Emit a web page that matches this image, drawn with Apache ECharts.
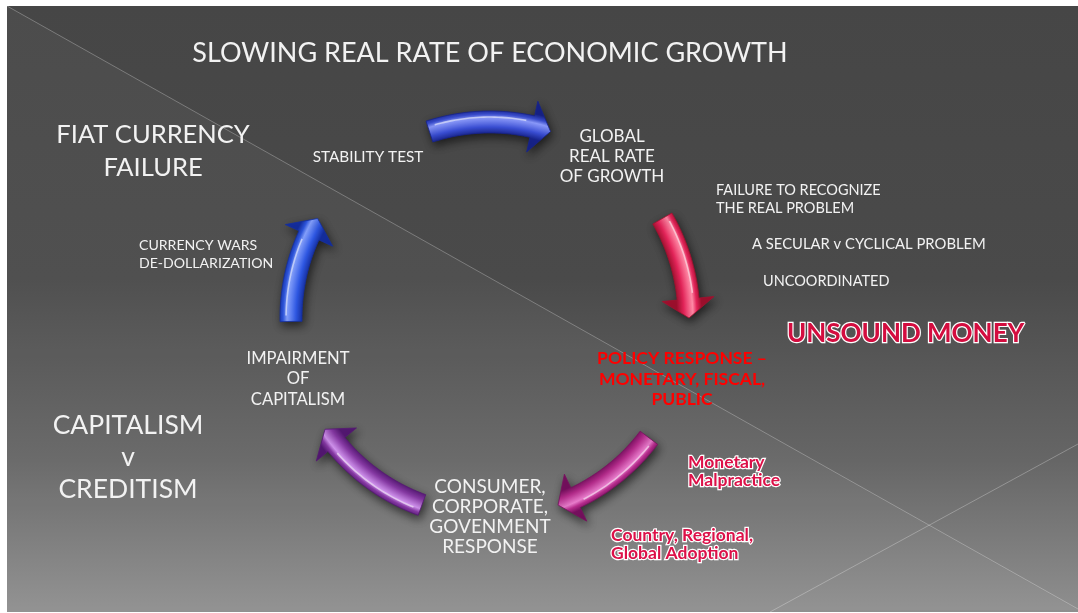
<!DOCTYPE html>
<html>
<head>
<meta charset="utf-8">
<script src="https://cdn.jsdelivr.net/npm/echarts@6/dist/echarts.min.js"></script>
<style>
html, body { margin: 0; padding: 0; background: #fff; }
#chart { width: 1078px; height: 613px; }
</style>
</head>
<body>
<div id="chart"></div>
<script>
// the cycle: five curved arrows, angles in degrees (0 = east, counter-clockwise)
const arrowStart = [108, 30, 323, 250, 181];
const arrowEnd = [72, 0, 290, 214, 150];
const arrowRadius = [0.985, 1, 1, 1, 1];

const headline = "SLOWING REAL RATE OF ECONOMIC GROWTH";
const stageLabels = [
    "STABILITY TEST",
    "GLOBAL\nREAL RATE\nOF GROWTH",
    "CONSUMER,\nCORPORATE,\nGOVENMENT\nRESPONSE",
    "IMPAIRMENT\nOF\nCAPITALISM",
];
const policyLabel = "POLICY RESPONSE –\nMONETARY, FISCAL,\nPUBLIC";
const problemNotes = ["FAILURE TO RECOGNIZE\nTHE REAL PROBLEM", "A SECULAR v CYCLICAL PROBLEM", "UNCOORDINATED"];
const currencyNote = "CURRENCY WARS\nDE-DOLLARIZATION";
const themes = ["FIAT CURRENCY\nFAILURE", "CAPITALISM\nv\nCREDITISM"];
const moneyTitle = "UNSOUND MONEY";
const moneyNotes = ["Monetary\nMalpractice", "Country, Regional,\nGlobal Adoption"];

// [dark, base, light]
const arrowColors = [
    ["#17238c", "#3a4ed2", "#8d9cff"],
    ["#a3102f", "#e6245a", "#ff8aa6"],
    ["#781060", "#b82d8e", "#e77ccb"],
    ["#551874", "#883aa6", "#cf92ec"],
    ["#142ea0", "#2e57e2", "#86a2ff"],
];

const FONT = "Lato, 'Open Sans', sans-serif";

const chart = echarts.init(document.getElementById("chart"));

const renderArrow = function (params, api) {
    const r = api.value(0);
    const a0 = api.value(1);
    const a1 = api.value(2);
    const idx = params.dataIndex;
    const c = api.coord([0, 0]);
    const p1 = api.coord([1, 0]);
    const unit = Math.hypot(p1[0] - c[0], p1[1] - c[1]);
    const w = 11 / unit;
    const hw = 26 / unit;
    const dir = a1 < a0 ? -1 : 1;
    const headDeg = (19 / (r * unit)) * 180 / Math.PI;
    const ab = a1 - dir * headDeg;
    const steps = 30;
    const outer = [];
    const inner = [];
    const shine = [];
    for (let i = 0; i <= steps; i++) {
        const a = a0 + ((ab - a0) * i) / steps;
        outer.push(api.coord([r + w, a]));
        inner.push(api.coord([r - w, a]));
        shine.push(api.coord([r + w * 0.45, a]));
    }
    const pts = outer.concat(
        [api.coord([r + hw, ab]), api.coord([r, a1]), api.coord([r - hw, ab])],
        inner.slice().reverse()
    );
    const R = r * unit;
    const Rg = R + 40;
    const col = arrowColors[idx];
    const fill = {
        type: "radial",
        x: c[0],
        y: c[1],
        r: Rg,
        global: true,
        colorStops: [
            { offset: (R - 12) / Rg, color: col[0] },
            { offset: (R - 5) / Rg, color: col[1] },
            { offset: (R + 4) / Rg, color: col[2] },
            { offset: (R + 8) / Rg, color: col[1] },
            { offset: (R + 13) / Rg, color: col[0] },
        ],
    };
    return {
        type: "group",
        children: [
            {
                type: "polygon",
                shape: { points: pts },
                style: {
                    fill: fill,
                    stroke: col[0],
                    lineWidth: 0.8,
                    shadowBlur: 10,
                    shadowColor: "rgba(0,0,0,0.6)",
                    shadowOffsetX: 2,
                    shadowOffsetY: 4,
                },
            },
            {
                type: "polyline",
                shape: { points: shine.slice(2, steps - 1) },
                style: { stroke: "rgba(255,255,255,0.55)", lineWidth: 1.6, fill: null },
            },
        ],
    };
};

const txt = function (text, x, y, size, opts) {
    opts = opts || {};
    return {
        type: "text",
        z: 100,
        style: Object.assign(
            {
                text: text,
                x: x,
                y: y,
                font: (opts.weight || "normal") + " " + size + "px " + FONT,
                fill: opts.fill || "#f2f2f2",
                align: opts.align || "center",
                textAlign: opts.align || "center",
                verticalAlign: "middle",
                textVerticalAlign: "middle",
                lineHeight: opts.lh || size * 1.2,
            },
            opts.extra || {}
        ),
    };
};

const pinkOutline = {
    stroke: "#fff",
    lineWidth: 2.4,
    strokeFirst: true,
    shadowBlur: 4,
    shadowColor: "rgba(0,0,0,0.5)",
    shadowOffsetY: 2,
};

let option = {
    animation: false,
    polar: { center: [490, 318], radius: 298.5 },
    radiusAxis: {
        type: "value",
        min: 0,
        max: 1.5,
        axisLine: { show: false },
        axisTick: { show: false },
        axisLabel: { show: false },
        splitLine: { show: false },
    },
    angleAxis: {
        type: "value",
        min: 0,
        max: 360,
        startAngle: 0,
        clockwise: false,
        axisLine: { show: false },
        axisTick: { show: false },
        axisLabel: { show: false },
        splitLine: { show: false },
    },
    graphic: [
        {
            type: "rect",
            z: -10,
            shape: { x: 7, y: 6, width: 1071, height: 606 },
            style: {
                fill: {
                    type: "linear",
                    x: 0, y: 0, x2: 0, y2: 1,
                    colorStops: [
                        { offset: 0, color: "#464646" },
                        { offset: 0.45, color: "#4a4a4a" },
                        { offset: 0.75, color: "#666666" },
                        { offset: 1, color: "#8f8f8f" },
                    ],
                },
            },
        },
        {
            type: "polygon",
            z: -9,
            shape: { points: [[7, 6], [7, 612], [1078, 610]] },
            style: { fill: "rgba(255,255,255,0.035)" },
        },
        {
            type: "line",
            z: -8,
            shape: { x1: 7, y1: 6, x2: 1078, y2: 609 },
            style: { stroke: "rgba(255,255,255,0.28)", lineWidth: 1 },
        },
        {
            type: "line",
            z: -8,
            shape: { x1: 770, y1: 612, x2: 1078, y2: 444 },
            style: { stroke: "rgba(255,255,255,0.28)", lineWidth: 1 },
        },
        txt(headline, 490, 53, 27),
        txt(themes[0], 153, 151, 25.5, { lh: 33 }),
        txt(themes[1], 128, 457, 26.5, { lh: 32 }),
        txt(stageLabels[0], 368, 157, 15.3),
        txt(stageLabels[1], 612, 157, 17, { lh: 20 }),
        txt(stageLabels[2], 490, 517, 19, { lh: 20 }),
        txt(stageLabels[3], 298, 379, 16.6, { lh: 20.5 }),
        txt(problemNotes[0], 716, 199, 14.5, { align: "left", lh: 18 }),
        txt(problemNotes[1], 752, 244, 14.8, { align: "left" }),
        txt(problemNotes[2], 763, 281, 14.5, { align: "left" }),
        txt(currencyNote, 139, 254, 14.1, { align: "left", lh: 18 }),
        txt(policyLabel, 682, 379, 17.5, { weight: "bold", fill: "#ff0000", lh: 20.5 }),
        txt(moneyTitle, 787, 334, 26, { weight: "bold", fill: "#d30d3f", align: "left", extra: pinkOutline }),
        txt(moneyNotes[0], 688, 471, 17.5, { weight: "bold", fill: "#dc1048", align: "left", lh: 18, extra: pinkOutline }),
        txt(moneyNotes[1], 611, 544, 17.5, { weight: "bold", fill: "#dc1048", align: "left", lh: 18, extra: pinkOutline }),
    ],
    series: [
        {
            type: "custom",
            coordinateSystem: "polar",
            renderItem: renderArrow,
            data: arrowStart.map((s, i) => [arrowRadius[i], s, arrowEnd[i]]),
            z: 5,
        },
    ],
};
chart.setOption(option);
</script>
</body>
</html>
